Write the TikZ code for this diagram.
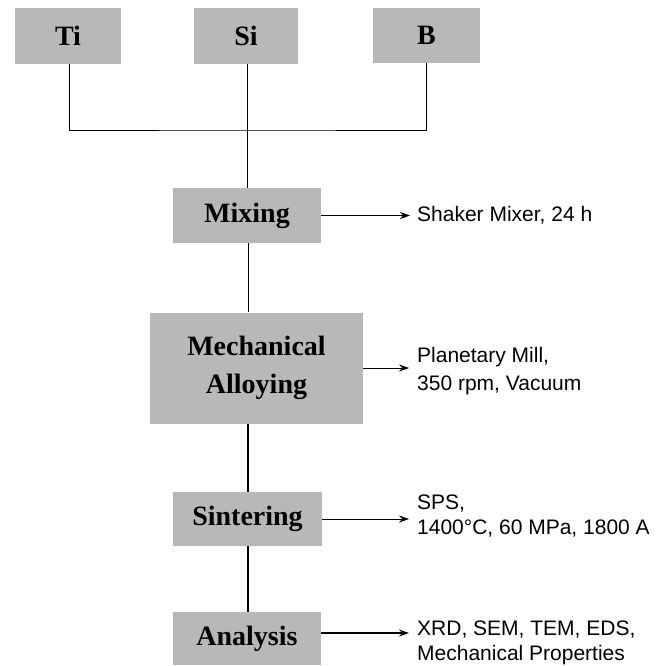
\documentclass[tikz,border=0pt]{standalone}
\usepackage{fontspec}
\setmainfont{Liberation Serif}
\setsansfont{Liberation Sans}
\usetikzlibrary{arrows.meta}
\begin{document}
\begin{tikzpicture}[x=1pt,y=-1pt,
  box/.style={fill=black!28, draw=none, inner sep=0pt, font=\fontsize{28}{29}\selectfont\bfseries, align=center},
  conn/.style={draw=black, line width=0.8pt},
  thick conn/.style={draw=black, line width=1.3pt},
  arr/.style={draw=black, line width=0.8pt, -{Stealth[length=10pt,width=7pt]}},
  note/.style={anchor=west, inner sep=0pt, font=\sffamily\fontsize{21}{25}\selectfont, align=left}]
\useasboundingbox (0,0) rectangle (666,665);
\node[box, minimum width=106pt, minimum height=56pt] (ti) at (68,36) {Ti};
\node[box, minimum width=104pt, minimum height=56pt] (si) at (246,36) {Si};
\node[box, minimum width=107pt, minimum height=55pt] (b) at (426.5,35.5) {B};
\node[box, minimum width=148pt, minimum height=55pt] (mix) at (247,215.5) {Mixing};
\node[box, minimum width=213pt, minimum height=111pt, font=\fontsize{28}{38}\selectfont\bfseries] (mech) at (256.5,368) {Mechanical\\Alloying};
\node[box, minimum width=149pt, minimum height=54pt] (sint) at (247.5,519) {Sintering};
\node[box, minimum width=148pt, minimum height=53pt] (ana) at (247,638.5) {Analysis};

\coordinate (j) at (247,130);
\draw[conn] (ti.south -| 69,0) |- (j) -| (b.south -| 426,0);
\draw[conn] (si.south -| 247,0) -- (mix.north -| 247,0);
\draw[conn] (mix.south -| 248,0) -- (mech.north -| 248,0);
\draw[thick conn] (mech.south -| 248,0) -- (sint.north -| 248,0);
\draw[thick conn] (sint.south -| 248,0) -- (ana.north -| 248,0);

\node[note] (t1) at (417,215) {Shaker Mixer, 24 h};
\node[note, font=\sffamily\fontsize{21}{28}\selectfont] (t2) at (417,371) {Planetary Mill,\\350 rpm, Vacuum};
\node[note] (t3) at (417,516) {SPS,\\1400\textdegree C, 60 MPa, 1800 A};
\node[note] (t4) at (417,643) {XRD, SEM, TEM, EDS,\\Mechanical Properties};

\draw[arr] (mix.east) -- ([xshift=-7pt]t1.west |- mix.east);
\draw[arr] (mech.east |- 0,368) -- (409,368);
\draw[arr] (sint.east) -- (409,519);
\draw[arr, line width=1.3pt] (ana.east |- 0,633) -- (409,633);
\end{tikzpicture}
\end{document}
